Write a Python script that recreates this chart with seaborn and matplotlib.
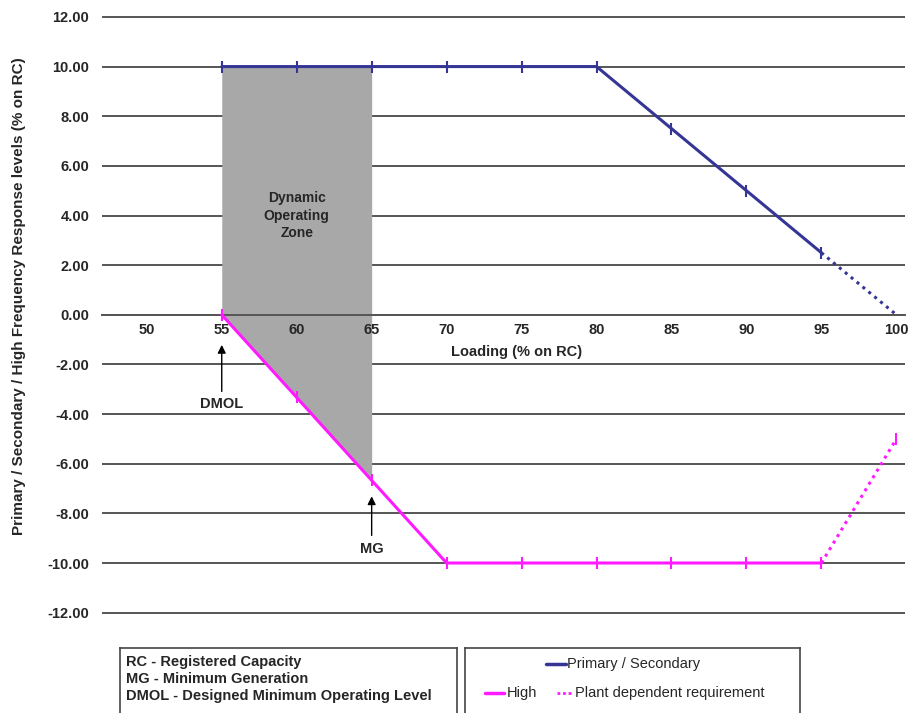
import matplotlib
matplotlib.use("Agg")
import matplotlib.pyplot as plt
import numpy as np
import pandas as pd
import seaborn as sns

# data
loading = [55, 60, 65, 70, 75, 80, 85, 90, 95]
primary = [10, 10, 10, 10, 10, 10, 7.5, 5, 2.5]
high = [0, -3.33, -6.67, -10, -10, -10, -10, -10, -10]
plant_x = [95, 100]
plant_primary = [2.5, 0]
plant_high = [-10, -5]
zone_x = [55, 60, 65]
zone_top = [10, 10, 10]
zone_bottom = [0, -3.33, -6.67]
x_ticks = [50, 55, 60, 65, 70, 75, 80, 85, 90, 95, 100]
y_ticks = [-12, -10, -8, -6, -4, -2, 0, 2, 4, 6, 8, 10, 12]

sns.set_style("white")
plt.rcParams['font.family'] = ['Liberation Sans', 'DejaVu Sans']

blue = '#353596'
pink = '#ff1aff'

df_main = pd.DataFrame({'Loading': loading, 'Primary': primary, 'High': high})
df_plant = pd.DataFrame({'Loading': plant_x, 'Primary': plant_primary, 'High': plant_high})

fig = plt.figure(figsize=(9.09, 7.13), dpi=100)
ax = fig.add_axes([0.112, 0.139, 0.884, 0.839])
ax.set_axisbelow(False)

# gridlines
for y in y_ticks:
    ax.axhline(y, color='#555555', lw=1.4, zorder=0)

ax.fill_between(zone_x, zone_bottom, zone_top, color='#a8a8a8', lw=0, zorder=1)

sns.lineplot(data=df_main, x='Loading', y='Primary', ax=ax, color=blue, lw=2.2,
             marker='|', markersize=9, markeredgewidth=1.5, markeredgecolor=blue, zorder=3)
sns.lineplot(data=df_main, x='Loading', y='High', ax=ax, color=pink, lw=2.2,
             marker='|', markersize=9, markeredgewidth=1.5, markeredgecolor=pink, zorder=3)
sns.lineplot(data=df_plant, x='Loading', y='Primary', ax=ax, color=blue, lw=2.2,
             linestyle=(0, (1, 1.5)), zorder=3)
sns.lineplot(data=df_plant, x='Loading', y='High', ax=ax, color=pink, lw=2.2,
             linestyle=(0, (1, 1.5)), marker='|', markersize=9, markeredgewidth=1.5,
             markeredgecolor=pink, markevery=[1], zorder=3)

ax.set_xlim(47, 100.6)
ax.set_ylim(-12.05, 12.05)
ax.set_xticks(x_ticks)
ax.set_yticks(y_ticks)
ax.set_yticklabels([f'{v:.2f}' for v in y_ticks])
for s in ['top', 'right', 'left']:
    ax.spines[s].set_visible(False)
ax.spines['bottom'].set_position(('data', 0))
ax.spines['bottom'].set_color('#555555')
ax.spines['bottom'].set_linewidth(1.4)
ax.tick_params(axis='x', direction='inout', length=12, width=1, color='#333333',
               labelsize=10.5, pad=0)
ax.tick_params(axis='y', length=0, labelsize=10.5, pad=9)
for lab in ax.get_xticklabels() + ax.get_yticklabels():
    lab.set_fontweight('bold')
ax.set_xlabel('')
ax.set_ylabel('')

ax.text(70.3, -1.5, 'Loading (% on RC)', fontsize=10.5, fontweight='bold', ha='left', va='center')
ax.text(60, 4.0, 'Dynamic\nOperating\nZone', fontsize=10, fontweight='bold',
        ha='center', va='center', linespacing=1.35)

ax.annotate('', xy=(55, -1.1), xytext=(55, -3.2),
            arrowprops=dict(arrowstyle='-|>', color='black', lw=1, mutation_scale=12))
ax.text(55, -3.6, 'DMOL', fontsize=10.5, fontweight='bold', ha='center', va='center')
ax.annotate('', xy=(65, -7.2), xytext=(65, -9.0),
            arrowprops=dict(arrowstyle='-|>', color='black', lw=1, mutation_scale=12))
ax.text(65, -9.45, 'MG', fontsize=10.5, fontweight='bold', ha='center', va='center')

fig.text(0.021, 0.585, 'Primary / Secondary / High Frequency Response levels (% on RC)',
         rotation=90, fontsize=11, fontweight='bold', ha='center', va='center')

# lower boxes
box1 = fig.add_axes([0.132, -0.05, 0.371, 0.141])
box2 = fig.add_axes([0.512, -0.05, 0.368, 0.141])
for b in (box1, box2):
    b.set_xlim(0, 1)
    b.set_ylim(0, 1)
    b.set_xticks([])
    b.set_yticks([])
    for s in b.spines.values():
        s.set_color('#444444')
        s.set_linewidth(1.2)

notes = ['RC - Registered Capacity', 'MG - Minimum Generation',
         'DMOL - Designed Minimum Operating Level']
for i, t in enumerate(notes):
    box1.text(0.018, 0.86 - i * 0.17, t, fontsize=10.5, fontweight='bold',
              ha='left', va='center')

box2.plot([0.242, 0.30], [0.84, 0.84], color=blue, lw=2.5)
box2.text(0.304, 0.84, 'Primary / Secondary', fontsize=10.5, ha='left', va='center')
box2.plot([0.06, 0.114], [0.55, 0.55], color=pink, lw=2.5)
box2.text(0.125, 0.55, 'High', fontsize=10.5, ha='left', va='center')
box2.plot([0.275, 0.32], [0.55, 0.55], color=pink, lw=2, linestyle=(0, (1, 1)))
box2.text(0.327, 0.55, 'Plant dependent requirement', fontsize=10.5, ha='left', va='center')

fig.savefig('out.png', dpi=100)
